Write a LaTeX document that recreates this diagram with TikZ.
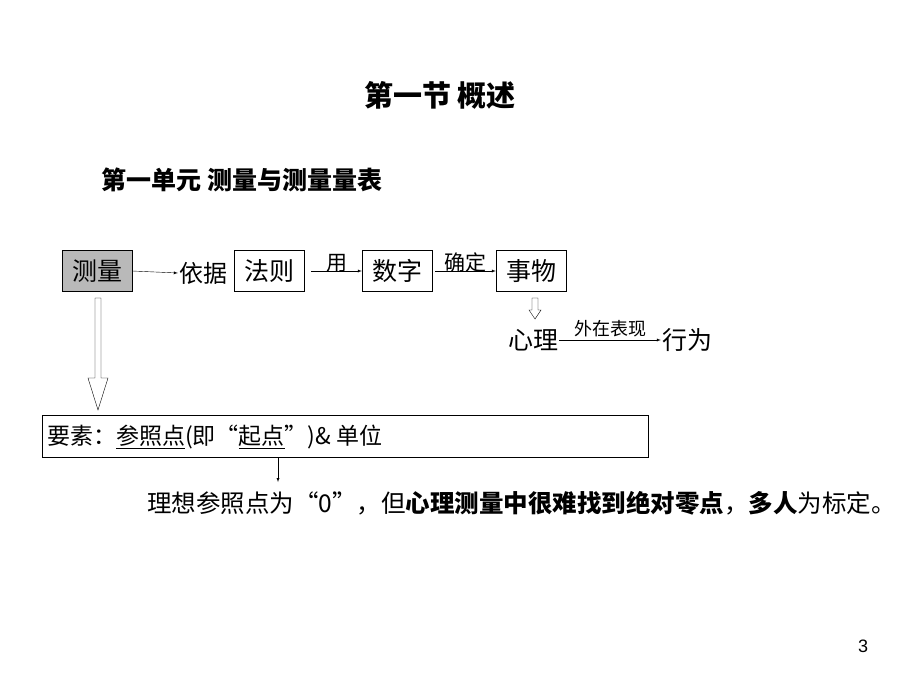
\documentclass[tikz,border=0pt]{standalone}
\usepackage{fontspec}
\setmainfont{Liberation Sans}
\newfontfamily\cjk{Noto Sans CJK SC}
\usetikzlibrary{positioning,calc}
\begin{document}
\begin{tikzpicture}[x=1pt,y=-1pt,
  termbox/.style={draw,minimum width=70pt,minimum height=41pt,font=\cjk\fontsize{25}{25}\selectfont},
  plain/.style={inner sep=1pt,font=\cjk\fontsize{23}{23}\selectfont},
  small/.style={inner sep=0pt,font=\cjk\fontsize{21}{21}\selectfont},
  link/.style={-latex}]
\useasboundingbox (0,0) rectangle (920,690);
% titles
\node[font=\cjk\bfseries\fontsize{29}{29}\selectfont] (title) at (440,95) {第一节 概述};
\node[anchor=west,font=\cjk\bfseries\fontsize{25}{25}\selectfont] (sub) at (98,180) {第一单元 测量与测量量表};
% chain
\node[termbox,fill=gray!55] (measure) at (97,271) {测量};
\node[plain,font=\cjk\fontsize{24}{24}\selectfont] (basis) at (203,273) {依据};
\node[termbox] (rule) at (269,271) {法则};
\node[termbox] (number) at (397,271) {数字};
\node[termbox] (thing) at (531,271) {事物};
\draw[link] (measure.east) -- (basis.west);
\draw[link] (rule.east)++(7,0) -- (number.west) node[midway,above=-1pt,small] {用};
\draw[link] (number.east)++(3,0) -- (thing.west) node[midway,above=-1pt,small] {确定};
% mind and behaviour
\node[plain,font=\cjk\fontsize{25}{25}\selectfont] (mind) at (533,340) {心理};
\node[plain,font=\cjk\fontsize{25}{25}\selectfont] (act) at (687,340) {行为};
\draw[link] (mind.east) -- (act.west) node[midway,above=-1pt,font=\cjk\fontsize{18}{18}\selectfont] {外在表现};
\draw (532,298) -- (532,310) -- (529,310) -- (535,319) -- (541,310) -- (538,310) -- (538,298) -- cycle;
% hollow arrow down
\draw[fill=white] (95,298) -- (95,378) -- (88,378) -- (98,410) -- (108,378) -- (101,378) -- (101,298) -- cycle;
% elements
\draw (42,415) rectangle (648,457);
\node[anchor=west,plain] (elem) at (46,437) {要素：\underline{参照点}(即“\underline{起点}”)\& 单位};
\coordinate (start) at (278,457);
\coordinate (below) at (278,482);
\draw[link] (start) -- (below);
\node[anchor=west,plain,font=\cjk\fontsize{24.5}{24.5}\selectfont] (note) at (146,503) {理想参照点为“0”，但\textbf{心理测量中很难找到绝对零点}，\textbf{多人}为标定。};
\node[font=\fontsize{18}{18}\selectfont] (page) at (863,646) {3};
\end{tikzpicture}
\end{document}
